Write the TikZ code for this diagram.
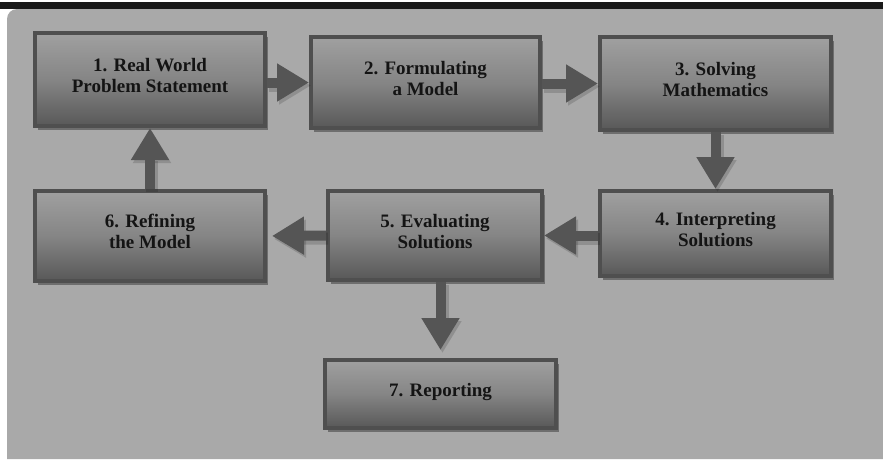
\documentclass[tikz,border=0pt]{standalone}
\usepackage{fontspec}
\setmainfont{Liberation Serif}
\usetikzlibrary{arrows.meta,shadows}
\definecolor{panel}{HTML}{A9A9A9}
\definecolor{boxborder}{HTML}{4F4F4F}
\definecolor{boxtop}{HTML}{A0A0A0}
\definecolor{boxmid}{HTML}{858585}
\definecolor{boxbot}{HTML}{585858}
\definecolor{arrowc}{HTML}{555555}
\definecolor{txt}{HTML}{141414}
\tikzset{
  stagebox/.style={draw=boxborder, line width=4pt, top color=boxtop, bottom color=boxbot, middle color=boxmid,
    font=\bfseries\fontsize{19}{21}\selectfont, align=center, text=txt, inner sep=0pt, text depth=9pt,
    drop shadow={shadow xshift=3pt, shadow yshift=-4pt, opacity=0.35, fill=black}},
  flow/.style={draw=arrowc, line width=10pt, -{Triangle[length=32pt,width=36pt]},
    preaction={draw=black, opacity=0.15, line width=12pt, transform canvas={shift={(2pt,-3pt)}}}}
}
\begin{document}
\begin{tikzpicture}[x=1pt,y=-1pt]
\useasboundingbox (0,0) rectangle (883,459);
\fill[white] (0,0) rectangle (883,459);
\fill[panel] (7,459) [rounded corners=10pt] -- (7,9) [sharp corners] -- (883,9) -- (883,459) -- cycle;
\fill[black!90] (0,2) rectangle (883,9);

\node[stagebox, minimum width=230pt, minimum height=93pt] (b1) at (150,79.5) {1. Real World\\Problem Statement};
\node[stagebox, minimum width=229pt, minimum height=91pt] (b2) at (425.5,82.5) {2. Formulating\\a Model};
\node[stagebox, minimum width=231pt, minimum height=93pt] (b3) at (715.5,83.5) {3. Solving\\Mathematics};
\node[stagebox, minimum width=231pt, minimum height=85pt] (b4) at (715.5,233.5) {4. Interpreting\\Solutions};
\node[stagebox, minimum width=214pt, minimum height=89pt] (b5) at (435,235.5) {5. Evaluating\\Solutions};
\node[stagebox, minimum width=230pt, minimum height=90pt] (b6) at (150,236) {6. Refining\\the Model};
\node[stagebox, minimum width=231pt, minimum height=68pt] (b7) at (440.5,394) {7. Reporting};

\draw[flow] (b1.east |- b2.west) -- (b2.west);
\draw[flow] (b2.east |- b3.west) -- (b3.west);
\draw[flow] (b3.south -| b4.north) -- (b4.north);
\draw[flow] (b4.west |- b5.east) -- (b5.east);
\draw[flow, shorten >=5pt] (b5.west) -- (b6.east);
\draw[flow] (b6.north) -- (b1.south);
\draw[flow, shorten >=8pt] (b5.south -| b7.north) -- (b7.north);
\end{tikzpicture}
\end{document}
